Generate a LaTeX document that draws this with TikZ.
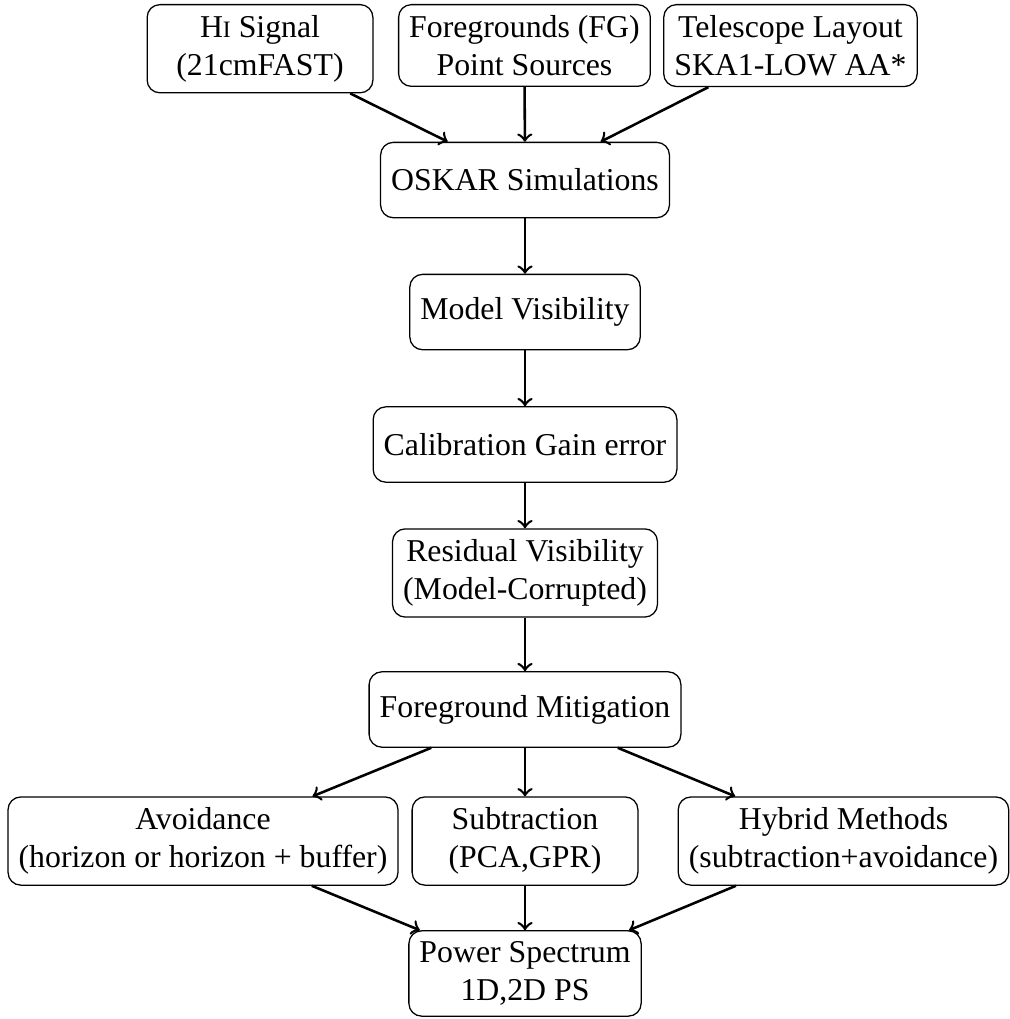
\documentclass[tikz,border=0pt]{standalone}
\usepackage{fontspec}
\setmainfont{Liberation Serif}

% small capital I for the neutral hydrogen label
\newcommand{\HIsc}{H{\fontsize{7.4}{9}\selectfont I}}

\tikzset{
  block/.style={draw, rounded corners, align=center, minimum height=23.7pt, minimum width=71pt},
  flow/.style={->, thick}
}

\begin{document}
\begin{tikzpicture}

  % Page size
  \useasboundingbox (0,0) rectangle (11.153,-11.263);

  % Inputs (top row)
  \node[block, anchor=north] (hisig) at (2.874,-0.044) {\HIsc{} Signal\\(21cmFAST)};
  \node[block, anchor=north] (fgsrc) at (5.797,-0.044) {Foregrounds (FG)\\Point Sources};
  \node[block, anchor=north] (layout) at (8.737,-0.044) {Telescope Layout\\SKA1-LOW AA*};

  % Main chain
  \node[block] (oskar) at (5.803,-1.990) {OSKAR Simulations};
  \node[block] (modvis) at (5.803,-3.449) {Model Visibility};
  \node[block] (calib) at (5.803,-4.913) {Calibration Gain error};
  \node[block] (resvis) at (5.803,-6.333) {Residual Visibility\\(Model-Corrupted)};
  \node[block] (fgmit) at (5.803,-7.842) {Foreground Mitigation};

  % Mitigation methods
  \node[block] (avoid) at (2.244,-9.296) {Avoidance\\(horizon or horizon + buffer)};
  \node[block] (subtr) at (5.803,-9.296) {Subtraction\\(PCA,GPR)};
  \node[block] (hybrid) at (9.323,-9.296) {Hybrid Methods\\(subtraction+avoidance)};

  % Output
  \node[block] (pspec) at (5.803,-10.760) {Power Spectrum\\1D,2D PS};

  % Connectors
  \draw[flow] (hisig) -- (oskar);
  \draw[flow] (fgsrc) -- (oskar);
  \draw[flow] (layout) -- (oskar);
  \draw[flow] (oskar) -- (modvis);
  \draw[flow] (modvis) -- (calib);
  \draw[flow] (calib) -- (resvis);
  \draw[flow] (resvis) -- (fgmit);
  \draw[flow] (fgmit) -- (avoid);
  \draw[flow] (fgmit) -- (subtr);
  \draw[flow] (fgmit) -- (hybrid);
  \draw[flow] (avoid) -- (pspec);
  \draw[flow] (subtr) -- (pspec);
  \draw[flow] (hybrid) -- (pspec);

\end{tikzpicture}
\end{document}
